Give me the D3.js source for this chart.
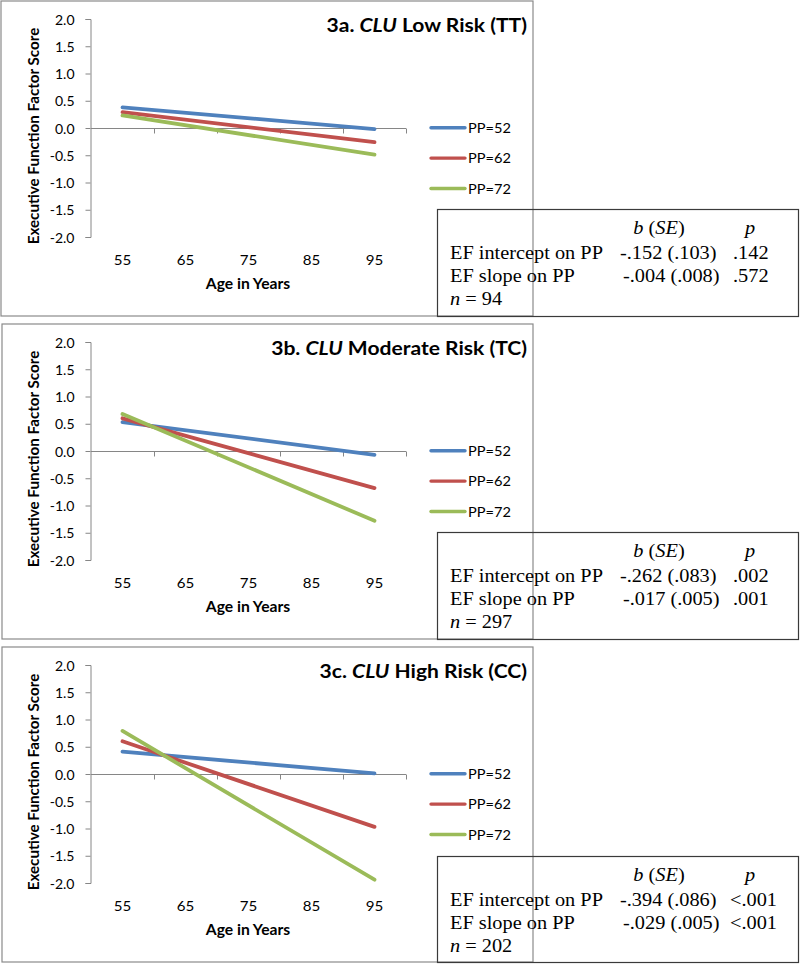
<!DOCTYPE html>
<html>
<head>
<meta charset="utf-8">
<script src="https://cdn.jsdelivr.net/npm/d3@7"></script>
<style>
  html, body { margin: 0; padding: 0; background: #ffffff; }
  svg { display: block; }
</style>
</head>
<body>
<div id="chart"></div>
<script>
// ---------- data ----------
const categories = ["55", "65", "75", "85", "95"];
const lineAges = ["55", "95"];
const seriesNames = ["PP=52", "PP=62", "PP=72"];
const seriesColors = ["#4F81BD", "#C0504D", "#9BBB59"];
const yTicks = [2.0, 1.5, 1.0, 0.5, 0.0, -0.5, -1.0, -1.5, -2.0];

// values at age 55 and 95 for PP=52, PP=62, PP=72
const panelA = [[0.38, -0.02], [0.29, -0.26], [0.23, -0.49]];
const panelB = [[0.53, -0.07], [0.60, -0.68], [0.68, -1.28]];
const panelC = [[0.41, 0.01], [0.60, -0.97], [0.79, -1.94]];
const panelValues = [panelA, panelB, panelC];

const titlePrefixes = ["3a.", "3b.", "3c."];
const titleSuffixes = ["Low Risk (TT)", "Moderate Risk (TC)", "High Risk (CC)"];
const interceptB = ["-.152 (.103)", "-.262 (.083)", "-.394 (.086)"];
const interceptP = [".142", ".002", "<.001"];
const slopeB = ["-.004 (.008)", "-.017 (.005)", "-.029 (.005)"];
const slopeP = [".572", ".001", "<.001"];
const nValues = ["94", "297", "202"];

// ---------- layout ----------
const W = 800, H = 965;
const panelTops = [1, 324, 647];
const panelH = 315;
const sansFont = "Lato, 'Open Sans', sans-serif";
const serifFont = "'Liberation Serif', 'Times New Roman', serif";
const SX = 1.08;       // horizontal stretch of the sans text
const SXS = 1.13;      // horizontal stretch of the serif text

const svg = d3.select("#chart").append("svg")
  .attr("width", W).attr("height", H)
  .attr("viewBox", `0 0 ${W} ${H}`);

function txt(parent, x, y, sx) {
  return parent.append("text")
    .attr("transform", `translate(${x},${y}) scale(${sx},1)`);
}

const x = d3.scaleBand().domain(categories).range([91, 406]).paddingInner(0).paddingOuter(0);
const xc = d => x(d) + x.bandwidth() / 2;

panelValues.forEach((vals, pi) => {
  const g = svg.append("g").attr("transform", `translate(0,${panelTops[pi]})`);
  const y = d3.scaleLinear().domain([-2, 2]).range([236, 18]);

  // panel frame
  g.append("rect")
    .attr("x", pi === 0 ? 1 : 2).attr("y", 0)
    .attr("width", pi === 0 ? 532 : 531).attr("height", panelH)
    .attr("fill", "#ffffff").attr("stroke", "#8a8a8a").attr("stroke-width", 1.2);

  // y axis
  const yAxis = d3.axisLeft(y).tickValues(yTicks).tickSize(5).tickPadding(11)
    .tickFormat(d3.format(".1f"));
  const ya = g.append("g").attr("transform", "translate(90.5,0)").call(yAxis);
  ya.select(".domain").attr("stroke", "#868686").attr("stroke-width", 1);
  ya.selectAll(".tick line").attr("stroke", "#868686");
  ya.selectAll(".tick text")
    .attr("fill", "#000").attr("font-family", sansFont).attr("font-size", 14)
    .attr("dy", "0.36em")
    .text(d => d3.format(".1f")(d).replace("−", "-"));

  // x axis at y = 0 (ticks between categories)
  const xAxisG = g.append("g").attr("transform", `translate(0,${Math.round(y(0)) + 0.5})`);
  xAxisG.append("line").attr("x1", x.range()[0]).attr("x2", x.range()[1])
    .attr("stroke", "#868686").attr("stroke-width", 1);
  xAxisG.selectAll("line.tk").data(categories).enter().append("line").attr("class", "tk")
    .attr("x1", d => x(d) + x.bandwidth() + 0.5).attr("x2", d => x(d) + x.bandwidth() + 0.5)
    .attr("y1", 0).attr("y2", 5).attr("stroke", "#868686").attr("stroke-width", 1);

  // x tick labels (low position)
  categories.forEach(c => {
    txt(g, xc(c), 264, SX).attr("text-anchor", "middle")
      .attr("font-family", sansFont).attr("font-size", 14).attr("fill", "#000").text(c);
  });

  // axis titles
  txt(g, 248, 288, SX).attr("text-anchor", "middle")
    .attr("font-family", sansFont).attr("font-size", 14.5).attr("font-weight", "bold")
    .attr("fill", "#000").text("Age in Years");
  g.append("text")
    .attr("transform", `translate(38.5,${135}) rotate(-90)`)
    .attr("text-anchor", "middle")
    .attr("font-family", sansFont).attr("font-size", 15.2).attr("font-weight", "bold")
    .attr("fill", "#000").text("Executive Function Factor Score");

  // lines
  const line = d3.line().x(d => xc(d.age)).y(d => y(d.v));
  vals.forEach((sv, si) => {
    const pts = lineAges.map((a, k) => ({ age: a, v: sv[k] }));
    g.append("path").attr("d", line(pts))
      .attr("fill", "none").attr("stroke", seriesColors[si])
      .attr("stroke-width", 3.8).attr("stroke-linecap", "round");
  });

  // title
  const t = txt(g, 527, 31, SX).attr("text-anchor", "end")
    .attr("font-family", sansFont).attr("font-size", 19.5).attr("font-weight", "bold").attr("fill", "#000");
  t.append("tspan").text(titlePrefixes[pi] + " ");
  t.append("tspan").attr("font-style", "italic").text("CLU");
  t.append("tspan").text(" " + titleSuffixes[pi]);

  // legend
  seriesNames.forEach((nm, si) => {
    const ly = 126.7 + si * 30.4;
    g.append("line").attr("x1", 431).attr("x2", 465).attr("y1", ly).attr("y2", ly)
      .attr("stroke", seriesColors[si]).attr("stroke-width", 3.4).attr("stroke-linecap", "round");
    txt(g, 468, ly + 5, SX).attr("font-family", sansFont).attr("font-size", 13.5)
      .attr("fill", "#000").text(nm);
  });

  // stats box
  const bt = pi === 2 ? 209.5 : 208.5;
  g.append("rect").attr("x", 437.5).attr("y", bt).attr("width", 361).attr("height", panelH - bt + 0.5)
    .attr("fill", "none").attr("stroke", "#3a3a3a").attr("stroke-width", 1.2);
  const sf = 18;
  const h1 = txt(g, 659, bt + 24.5, SXS).attr("text-anchor", "middle")
    .attr("font-family", serifFont).attr("font-size", sf).attr("fill", "#000");
  h1.append("tspan").attr("font-style", "italic").text("b");
  h1.append("tspan").text(" (");
  h1.append("tspan").attr("font-style", "italic").text("SE");
  h1.append("tspan").text(")");
  txt(g, 750, bt + 24.5, SXS).attr("text-anchor", "middle")
    .attr("font-family", serifFont).attr("font-size", sf).attr("font-style", "italic").attr("fill", "#000").text("p");

  const rows = [
    ["EF intercept on PP", interceptB[pi], interceptP[pi], 620],
    ["EF slope on PP", slopeB[pi], slopeP[pi], 623]
  ];
  rows.forEach((r, ri) => {
    const ry = bt + 49 + ri * 23.3;
    txt(g, 450, ry, SXS).attr("font-family", serifFont).attr("font-size", sf).attr("fill", "#000").text(r[0]);
    txt(g, r[3], ry, SXS).attr("font-family", serifFont).attr("font-size", sf).attr("fill", "#000").text(r[1]);
    txt(g, r[2].startsWith("<") ? 730 : 733, ry, SXS).attr("font-family", serifFont).attr("font-size", sf)
      .attr("fill", "#000").text(r[2]);
  });
  const nt = txt(g, 450, bt + 95.5, SXS).attr("font-family", serifFont).attr("font-size", sf).attr("fill", "#000");
  nt.append("tspan").attr("font-style", "italic").text("n");
  nt.append("tspan").text(" = " + nValues[pi]);
});
</script>
</body>
</html>
